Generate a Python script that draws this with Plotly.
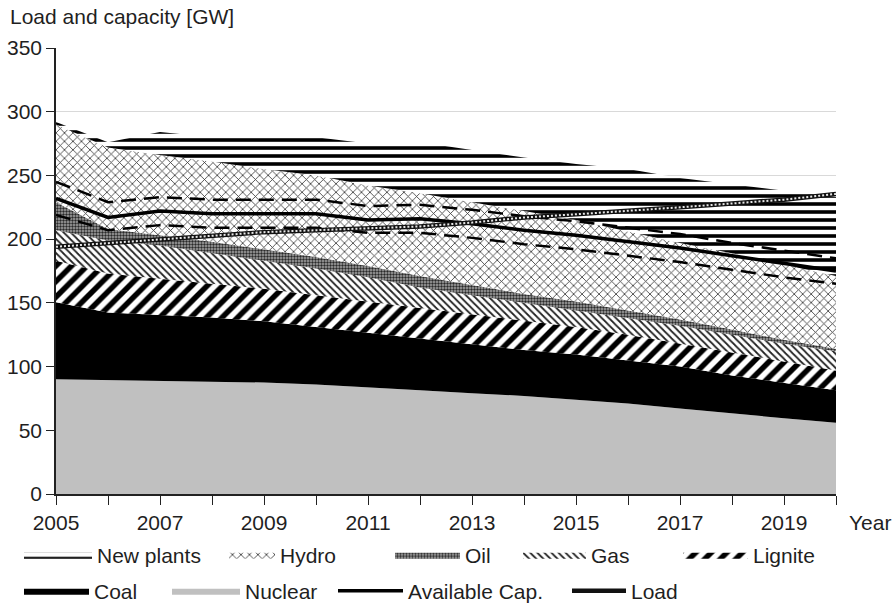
import plotly.graph_objects as go

# Years on the horizontal axis
years = list(range(2005, 2021))

# Installed capacity per technology [GW] (stacked from bottom to top)
nuclear = [90, 89.5, 89, 88.5, 87.5, 86, 84, 81.5, 79, 77, 74, 71, 67, 63, 59.5, 56]
coal = [60.5, 53, 51.5, 50, 48, 45, 42.5, 40.5, 38, 36, 35.5, 34, 33, 30, 27.5, 25.5]
lignite = [32.5, 30.5, 28.5, 26.5, 25.5, 25, 24.5, 24, 24, 23, 21.5, 20, 18, 18, 17, 15.5]
gas = [24, 26, 26, 24, 22, 21, 19, 16, 15, 14, 13, 13, 14, 14, 14, 15]
oil = [22, 9, 8, 9, 9, 9, 9, 9, 8, 7, 7, 6, 5, 4, 3, 2]
hydro = [61, 64, 63, 63, 63, 64, 63, 65, 65, 65, 64, 62, 60, 60, 59, 57]
new_plants = [2, 4, 18, 19, 25, 30, 33, 40, 41, 42, 44, 49, 51, 54, 58, 62]

# Available capacity with its upper/lower band, and load [GW]
available_cap = [232, 217, 222, 220, 220, 220, 215, 216, 212, 207, 203, 198, 193, 187, 181, 175]
available_upper = [245, 229, 233, 231, 231, 231, 226, 227, 223, 218, 214, 209, 204, 197, 191, 185]
available_lower = [219, 207, 211, 209, 209, 209, 205, 205, 201, 196, 192, 187, 182, 176, 170, 165]
load = [194, 197, 199.5, 202.5, 205.5, 207, 208.5, 210, 213, 217, 219.5, 222, 225, 228, 231, 235.5]

# Axis tick labels
year_ticks = years
year_labels = [str(y) if (y - 2005) % 2 == 0 else "" for y in years]
y_ticks = list(range(0, 351, 50))

FONT = "Liberation Sans, Arial, sans-serif"
FS = 21
TXT = "#1f1f1f"


def hatch(shape, size, solidity, fg="#000000", bg="white"):
    return dict(shape=shape, size=size, solidity=solidity, fgcolor=fg,
                bgcolor=bg, fgopacity=1, fillmode="replace")


fig = go.Figure()

areas = [
    ("Nuclear", nuclear, dict(fillcolor="#c0c0c0"), "legend7"),
    ("Coal", coal, dict(fillcolor="#000000"), "legend6"),
    ("Lignite", lignite, dict(fillcolor="white",
                              fillpattern=hatch("/", 11, 0.5)), "legend5"),
    ("Gas", gas, dict(fillcolor="white",
                      fillpattern=hatch("\\", 5, 0.35, "#222222")), "legend4"),
    ("Oil", oil, dict(fillcolor="#888888",
                      fillpattern=hatch(".", 3, 0.5, "#2a2a2a", "#a8a8a8")), "legend3"),
    ("Hydro", hydro, dict(fillcolor="white",
                          fillpattern=hatch("x", 6, 0.25, "#333333")), "legend2"),
    ("New plants", new_plants, dict(fillcolor="white",
                                    fillpattern=hatch("-", 8, 0.45)), "legend"),
]

for name, vals, style, leg in areas:
    fig.add_trace(go.Scatter(
        x=years, y=vals, name=name, stackgroup="cap", mode="lines",
        line=dict(width=0, color="rgba(0,0,0,0)"), legend=leg,
        hoverinfo="skip", **style,
    ))

# Band around the available capacity
for vals in (available_lower, available_upper):
    fig.add_trace(go.Scatter(
        x=years, y=vals, mode="lines", showlegend=False,
        line=dict(color="#000000", width=2.5, dash="15px,8px"),
    ))

fig.add_trace(go.Scatter(
    x=years, y=available_cap, name="Available Cap.", mode="lines",
    line=dict(color="#000000", width=3.5), legend="legend8",
))

# Load drawn as a chain: thick dark line with light dots inside
fig.add_trace(go.Scatter(
    x=years, y=load, name="Load", mode="lines",
    line=dict(color="#111111", width=4.5), legend="legend9",
))
fig.add_trace(go.Scatter(
    x=years, y=load, mode="lines", showlegend=False,
    line=dict(color="#e8e8e8", width=2, dash="2px,2px"),
))

# Plot area in pixels
PL, PR, PT, PB = 56, 836, 48, 494
W, H = 895, 605
pw, ph = PR - PL, PB - PT


def px_x(x):
    return (x - PL) / pw


def px_y(y):
    return (PB - y) / ph


# One legend box per entry: (left edge px, symbol width px, row centre px)
legend_boxes = {
    "legend": (19, 68, 555), "legend2": (224, 46, 555), "legend3": (390, 65, 555),
    "legend4": (518, 63, 555), "legend5": (678, 65, 555),
    "legend6": (19, 65, 591), "legend7": (167, 68, 591), "legend8": (333, 65, 591),
    "legend9": (567, 54, 591),
}
legends = {}
for key, (lx, iw, ly) in legend_boxes.items():
    legends[key] = dict(
        x=px_x(lx), y=px_y(ly), xanchor="left", yanchor="middle",
        orientation="h", bgcolor="rgba(0,0,0,0)", borderwidth=0,
        itemwidth=iw, font=dict(family=FONT, size=FS, color=TXT),
        itemclick=False, itemdoubleclick=False,
    )

fig.update_layout(
    width=W, height=H,
    margin=dict(l=PL, r=W - PR, t=PT, b=H - PB, pad=0, autoexpand=False),
    paper_bgcolor="white", plot_bgcolor="white",
    font=dict(family=FONT, size=FS, color=TXT),
    showlegend=True,
    **legends,
    xaxis=dict(
        range=[2005, 2020], tickmode="array", tickvals=year_ticks, ticktext=year_labels,
        ticks="outside", ticklen=9, tickwidth=1.3, tickcolor="#222222",
        showline=True, linecolor="#222222", linewidth=1.5, showgrid=False,
        zeroline=False, tickfont=dict(size=FS),
    ),
    yaxis=dict(
        range=[0, 350], tickmode="array", tickvals=y_ticks,
        ticks="outside", ticklen=8, tickwidth=1.3, tickcolor="#222222",
        showline=True, linecolor="#222222", linewidth=1.5,
        showgrid=True, gridcolor="#d9d9d9", gridwidth=1,
        zeroline=False, tickfont=dict(size=FS),
    ),
    annotations=[
        dict(text="Load and capacity [GW]", xref="paper", yref="paper",
             x=px_x(8), y=px_y(16), xanchor="left", yanchor="middle",
             showarrow=False, font=dict(size=FS)),
        dict(text="Year", xref="paper", yref="paper",
             x=px_x(847), y=px_y(522), xanchor="left", yanchor="middle",
             showarrow=False, font=dict(size=FS)),
    ],
)

fig.write_html("out.html")
